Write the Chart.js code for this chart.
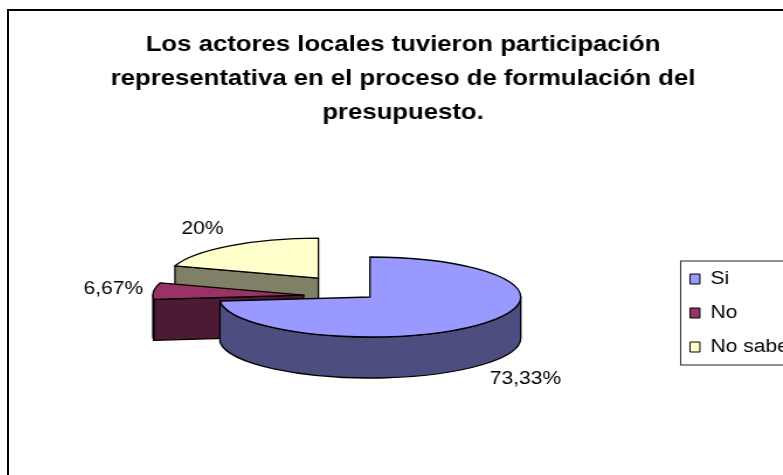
<!DOCTYPE html>
<html lang="es">
<head>
<meta charset="utf-8">
<title>Participación de actores locales</title>
<script src="https://cdn.jsdelivr.net/npm/chart.js@4"></script>
<style>
  html, body { margin: 0; padding: 0; background: #fff; overflow: hidden; }
  #marco {
    position: absolute;
    left: 7px;
    top: 9px;
    width: 788px;
    height: 470px;
    border: 2px solid #000;
  }
  #grafico { display: block; }
</style>
</head>
<body>
<div id="marco">
  <!-- el lienzo se estira en horizontal, igual que el gráfico original -->
  <canvas id="grafico" width="674" height="470" style="width:788px;height:470px"></canvas>
</div>
<script>
const titulo = [
  'Los actores locales tuvieron participación',
  'representativa en el proceso de formulación del',
  'presupuesto.'
];
const categorias = ['Si', 'No', 'No sabe'];
const porcentajes = [73.33, 6.67, 20];

const fuente = "'Liberation Sans', Arial, sans-serif";

// "73.33" -> "73,33%"
const formato = v => String(v).replace('.', ',') + '%';

function sombra(hex, f) {
  const n = parseInt(hex.slice(1), 16);
  const r = Math.round(((n >> 16) & 255) * f);
  const g = Math.round(((n >> 8) & 255) * f);
  const b = Math.round((n & 255) * f);
  return `rgb(${r},${g},${b})`;
}

// Tarta en perspectiva: aplana los sectores que calcula Chart.js,
// les da grosor y dibuja las etiquetas de porcentaje.
const tarta3d = {
  id: 'tarta3d',
  beforeDatasetsDraw(chart, args, opts) {
    const ctx = chart.ctx;
    const meta = chart.getDatasetMeta(0);
    const k = opts.tilt, depth = opts.depth;
    const valores = chart.data.datasets[0].data;

    const sectores = meta.data.map((arc, i) => {
      const p = arc.getProps(['x', 'y', 'startAngle', 'endAngle', 'outerRadius'], true);
      const mid = (p.startAngle + p.endAngle) / 2;
      const off = arc.options.offset || 0;
      return {
        i, mid,
        a0: p.startAngle,
        a1: p.endAngle,
        r: p.outerRadius,
        cx: p.x + Math.cos(mid) * off,
        cy: p.y + Math.sin(mid) * off * k,
        color: arc.options.backgroundColor
      };
    });

    // del fondo hacia delante
    const orden = sectores.slice().sort((a, b) =>
      (a.cy + Math.sin(a.mid) * a.r * k) - (b.cy + Math.sin(b.mid) * b.r * k));

    ctx.save();
    ctx.lineWidth = 1.3;
    ctx.strokeStyle = '#000';
    ctx.lineJoin = 'round';

    orden.forEach(s => {
      const ry = s.r * k;
      const lado = sombra(s.color, 0.5);

      // caras radiales que miran al frente
      const caras = [];
      if (Math.cos(s.a0) < -1e-6) caras.push(s.a0);
      if (Math.cos(s.a1) > 1e-6) caras.push(s.a1);
      caras.forEach(a => {
        const ex = s.cx + Math.cos(a) * s.r;
        const ey = s.cy + Math.sin(a) * ry;
        ctx.beginPath();
        ctx.moveTo(s.cx, s.cy);
        ctx.lineTo(ex, ey);
        ctx.lineTo(ex, ey + depth);
        ctx.lineTo(s.cx, s.cy + depth);
        ctx.closePath();
        ctx.fillStyle = lado;
        ctx.fill();
        ctx.stroke();
      });

      // pared curva (solo la mitad delantera)
      const ini = Math.max(s.a0, 0);
      const fin = Math.min(s.a1, Math.PI);
      if (fin > ini) {
        ctx.beginPath();
        ctx.ellipse(s.cx, s.cy, s.r, ry, 0, ini, fin, false);
        ctx.ellipse(s.cx, s.cy + depth, s.r, ry, 0, fin, ini, true);
        ctx.closePath();
        ctx.fillStyle = lado;
        ctx.fill();
        ctx.stroke();
      }

      // cara superior
      ctx.beginPath();
      ctx.moveTo(s.cx, s.cy);
      ctx.ellipse(s.cx, s.cy, s.r, ry, 0, s.a0, s.a1, false);
      ctx.closePath();
      ctx.fillStyle = s.color;
      ctx.fill();
      ctx.stroke();
    });

    // etiquetas de porcentaje
    ctx.fillStyle = '#000';
    ctx.font = `${opts.labelSize}px ${fuente}`;
    ctx.textBaseline = 'middle';
    sectores.forEach(s => {
      const c = Math.cos(s.mid), sn = Math.sin(s.mid);
      const rr = s.r + opts.labelGap;
      const x = s.cx + c * rr;
      let y = s.cy + sn * rr * k + (sn > 0 ? depth : 0);
      y += sn * opts.labelSize;
      ctx.textAlign = c > 0.2 ? 'left' : (c < -0.2 ? 'right' : 'center');
      ctx.fillText(formato(valores[s.i]), x, y);
    });
    ctx.restore();
    return false;
  }
};

// el título se centra sobre todo el lienzo, no sobre el área con márgenes
const tituloCentrado = {
  id: 'tituloCentrado',
  afterLayout(chart) {
    const t = chart.titleBlock;
    if (!t) return;
    t.left = 0;
    t.right = chart.width;
    t.width = chart.width;
  }
};

// recuadro de la leyenda (se sale por la derecha del lienzo)
const marcoLeyenda = {
  id: 'marcoLeyenda',
  afterDraw(chart) {
    const lg = chart.legend;
    const cajas = lg && lg.legendHitBoxes;
    if (!cajas || !cajas.length) return;
    const a = cajas[0], z = cajas[cajas.length - 1];
    const ctx = chart.ctx;
    ctx.save();
    ctx.strokeStyle = '#222';
    ctx.lineWidth = 1;
    ctx.strokeRect(a.left - 8, a.top - 9, chart.width - a.left + 30, z.top + z.height - a.top + 18);
    ctx.restore();
  }
};

new Chart(document.getElementById('grafico'), {
  type: 'pie',
  data: {
    labels: categorias,
    datasets: [{
      data: porcentajes,
      backgroundColor: ['#9999FF', '#993366', '#FFFFCC'],
      borderColor: '#000',
      borderWidth: 1,
      offset: [0, 57, 75],
      radius: 129
    }]
  },
  options: {
    responsive: false,
    animation: false,
    events: [],
    layout: { padding: { left: 51, right: -3, top: 0, bottom: 26 } },
    plugins: {
      title: {
        display: true,
        text: titulo,
        color: '#000',
        font: { family: fuente, size: 22, weight: 'bold', lineHeight: 34 / 22 },
        padding: { top: 17, bottom: 9 }
      },
      legend: {
        position: 'right',
        fullSize: false,
        title: { display: true, text: '', padding: 0, font: { size: 32, lineHeight: 1 } },
        labels: {
          boxWidth: 8.5,
          boxHeight: 10,
          padding: 16,
          color: '#000',
          font: { family: fuente, size: 18 }
        }
      },
      tooltip: { enabled: false },
      tarta3d: { tilt: 0.31, depth: 41, labelGap: 9, labelSize: 18 }
    }
  },
  plugins: [tarta3d, tituloCentrado, marcoLeyenda]
});
</script>
</body>
</html>
